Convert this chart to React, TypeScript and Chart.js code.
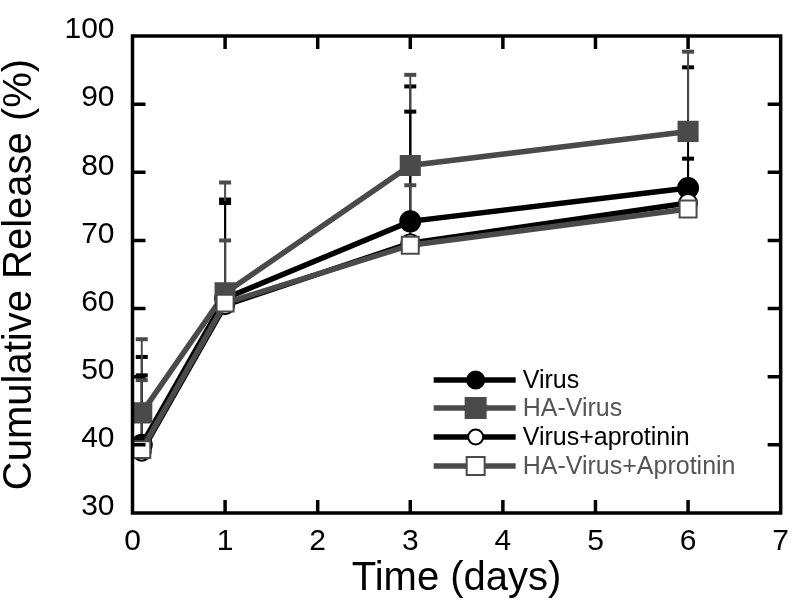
import React, { useEffect, useRef } from "react";
import { Chart, registerables } from "chart.js";

Chart.register(...registerables);

// ---- data ----
const timeDays = [0.1, 1, 3, 6];
const seriesLabels = ["Virus", "HA-Virus", "Virus+aprotinin", "HA-Virus+Aprotinin"];
const virus = [40, 61.5, 72.8, 77.7];
const haVirus = [44.7, 62.3, 81, 86];
const virusAprotinin = [39, 60.5, 69.6, 75.5];
const haVirusAprotinin = [39.3, 60.8, 69.3, 74.6];
const virusErr = [12.9, 14.5, 19.8, 17.7];
const haVirusErr = [10.8, 16.2, 13.3, 11.7];
const virusAprotininErr = [11.2, 15, 19.3, 6.5];
const haVirusAprotininErr = [10.2, 9.2, 8.8, 1.5];
const xTickValues = [0, 1, 2, 3, 4, 5, 6, 7];
const yTickValues = [30, 40, 50, 60, 70, 80, 90, 100];

const BLACK = "#000000";
const GREY = "#4a4a4a";
const FONT = "'Liberation Sans', Arial, Helvetica, sans-serif";

const seriesValues = [virus, haVirus, virusAprotinin, haVirusAprotinin];
const seriesErrors = [virusErr, haVirusErr, virusAprotininErr, haVirusAprotininErr];
const seriesColors = [BLACK, GREY, BLACK, GREY];
const textColors = ["#000000", "#555555", "#000000", "#555555"];
const seriesStyles = ["circle", "rect", "circle", "rect"];
const seriesFilled = [true, true, false, false];

const errorBarPlugin = {
  id: "errorBars",
  beforeDatasetsDraw(chart: any) {
    const ctx = chart.ctx;
    const yScale = chart.scales.y;
    chart.data.datasets.forEach((ds: any, i: number) => {
      const meta = chart.getDatasetMeta(i);
      const errs = seriesErrors[i];
      meta.data.forEach((pt: any, j: number) => {
        const v = ds.data[j].y;
        const top = yScale.getPixelForValue(v + errs[j]);
        ctx.save();
        ctx.strokeStyle = seriesColors[i];
        ctx.lineWidth = 2;
        ctx.beginPath();
        ctx.moveTo(pt.x, pt.y);
        ctx.lineTo(pt.x, top);
        ctx.stroke();
        ctx.lineWidth = 4;
        ctx.beginPath();
        ctx.moveTo(pt.x - 6, top);
        ctx.lineTo(pt.x + 6, top);
        ctx.stroke();
        ctx.restore();
      });
    });
  },
};

const framePlugin = {
  id: "frameTicks",
  afterDatasetsDraw(chart: any) {
    const ctx = chart.ctx;
    const { left, right, top, bottom } = chart.chartArea;
    const xs = chart.scales.x;
    const ys = chart.scales.y;
    const len = 13;
    ctx.save();
    ctx.strokeStyle = "#000";
    ctx.lineWidth = 3.5;
    ctx.beginPath();
    xTickValues.forEach((v) => {
      const px = xs.getPixelForValue(v);
      if (v === xs.min || v === xs.max) return;
      ctx.moveTo(px, bottom);
      ctx.lineTo(px, bottom - len);
      ctx.moveTo(px, top);
      ctx.lineTo(px, top + len);
    });
    yTickValues.forEach((v) => {
      const py = ys.getPixelForValue(v);
      if (v === ys.min || v === ys.max) return;
      ctx.moveTo(left, py);
      ctx.lineTo(left + len, py);
      ctx.moveTo(right, py);
      ctx.lineTo(right - len, py);
    });
    ctx.stroke();
    ctx.strokeRect(left, top, right - left, bottom - top);
    ctx.restore();
  },
};

function drawMarker(ctx: any, style: string, x: number, y: number, color: string, filled: boolean, size: number) {
  ctx.save();
  ctx.beginPath();
  if (style === "circle") {
    ctx.arc(x, y, size, 0, Math.PI * 2);
  } else {
    ctx.rect(x - size, y - size, size * 2, size * 2);
  }
  ctx.fillStyle = filled ? color : "#fff";
  ctx.fill();
  ctx.strokeStyle = color;
  ctx.lineWidth = 2;
  ctx.stroke();
  ctx.restore();
}

const legendPlugin = {
  id: "customLegend",
  afterDraw(chart: any) {
    const ctx = chart.ctx;
    const { right, bottom } = chart.chartArea;
    const x0 = right - 347;
    const x1 = right - 265;
    const xm = (x0 + x1) / 2 + 1;
    const rows = [bottom - 133, bottom - 105, bottom - 76, bottom - 47];
    const sizes = [8.5, 10, 7.5, 9];
    ctx.save();
    seriesLabels.forEach((label, i) => {
      const y = rows[i];
      ctx.strokeStyle = seriesColors[i];
      ctx.lineWidth = 5.5;
      ctx.beginPath();
      ctx.moveTo(x0, y);
      ctx.lineTo(x1, y);
      ctx.stroke();
      drawMarker(ctx, seriesStyles[i], xm, y, seriesColors[i], seriesFilled[i], sizes[i]);
      ctx.fillStyle = textColors[i];
      ctx.font = `25px ${FONT}`;
      ctx.textBaseline = "middle";
      ctx.textAlign = "left";
      ctx.fillText(label, x1 + 7, y + 1);
    });
    ctx.restore();
  },
};

export default function App() {
  const canvasRef = useRef<HTMLCanvasElement | null>(null);

  useEffect(() => {
    document.body.style.margin = "0";
    const canvas = canvasRef.current;
    if (!canvas) return;
    const datasets = seriesLabels.map((label, i) => ({
      label,
      data: timeDays.map((t, j) => ({ x: t, y: seriesValues[i][j] })),
      borderColor: seriesColors[i],
      backgroundColor: seriesFilled[i] ? seriesColors[i] : "#ffffff",
      borderWidth: 5.5,
      pointStyle: seriesStyles[i],
      pointRadius: seriesStyles[i] === "rect" ? (seriesFilled[i] ? 13.5 : 12) : seriesFilled[i] ? 10 : 9,
      pointBorderWidth: 2,
      pointBorderColor: seriesColors[i],
      pointBackgroundColor: seriesFilled[i] ? seriesColors[i] : "#ffffff",
      tension: 0,
      fill: false,
      order: 3 - i,
    }));
    const chart = new Chart(canvas, {
      type: "line",
      data: { datasets },
      options: {
        responsive: false,
        animation: false,
        layout: { padding: { top: 24, right: 15, left: 0, bottom: 0 } },
        plugins: {
          legend: { display: false },
          tooltip: { enabled: false },
        },
        scales: {
          x: {
            type: "linear",
            min: 0,
            max: 7,
            afterBuildTicks: (s: any) => {
              s.ticks = xTickValues.map((v) => ({ value: v }));
            },
            afterFit: (s: any) => {
              s.height = 94;
            },
            grid: { display: false, drawTicks: false },
            border: { display: false },
            ticks: {
              color: "#000",
              font: { family: FONT, size: 30 },
              padding: 11,
              maxRotation: 0,
            },
            title: {
              display: true,
              text: "Time (days)",
              color: "#000",
              font: { family: FONT, size: 40, lineHeight: 1 },
              padding: { top: 0, bottom: 8 },
            },
          },
          y: {
            type: "linear",
            min: 30,
            max: 100,
            afterBuildTicks: (s: any) => {
              s.ticks = yTickValues.map((v) => ({ value: v }));
            },
            afterFit: (s: any) => {
              s.width = 132.5;
            },
            grid: { display: false, drawTicks: false },
            border: { display: false },
            ticks: {
              color: "#000",
              font: { family: FONT, size: 30 },
              padding: 18,
              labelOffset: -6,
            },
            title: {
              display: true,
              text: "Cumulative Release (%)",
              color: "#000",
              font: { family: FONT, size: 40, lineHeight: 1 },
              padding: { top: 0, bottom: 0 },
            },
          },
        },
      },
      plugins: [errorBarPlugin, framePlugin, legendPlugin],
    } as any);
    return () => chart.destroy();
  }, []);

  return (
    <div style={{ width: 800, height: 607 }}>
      <canvas ref={canvasRef} width={800} height={607} />
    </div>
  );
}
